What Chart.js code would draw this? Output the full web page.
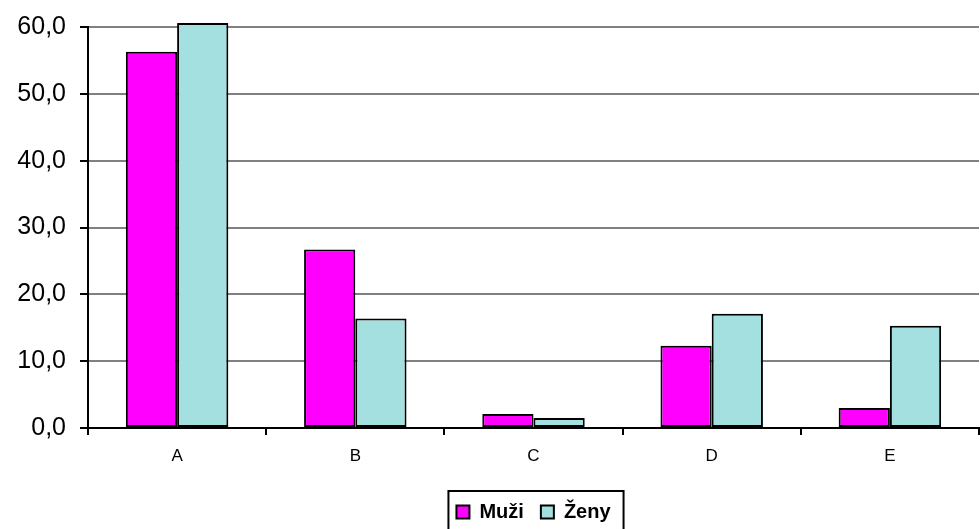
<!DOCTYPE html>
<html lang="cs">
<head>
    <meta charset="UTF-8">
    <title>Muži a ženy</title>
    <style>
        body {
            margin: 0;
            background-color: #fff;
        }
        canvas {
            display: block;
        }
    </style>
</head>
<body>
    <canvas id="genderChart" width="980" height="529"></canvas>

    <script src="https://cdn.jsdelivr.net/npm/chart.js"></script>
    <script>
        const categories = ['A', 'B', 'C', 'D', 'E'];
        const muzi = [56.3, 26.7, 2.1, 12.3, 3.0];
        const zeny = [60.6, 16.4, 1.5, 17.1, 15.3];
        const yMax = 60;
        const yStep = 10;

        // frame around the legend items
        const legendFrame = {
            id: 'legendFrame',
            afterDraw(chart) {
                const boxes = chart.legend.legendHitBoxes;
                if (!boxes || !boxes.length) return;
                const left = Math.min(...boxes.map(b => b.left)) - 8;
                const right = Math.max(...boxes.map(b => b.left + b.width)) + 13;
                const top = Math.min(...boxes.map(b => b.top)) - 11;
                const ctx = chart.ctx;
                ctx.save();
                ctx.strokeStyle = '#000';
                ctx.lineWidth = 2;
                ctx.strokeRect(left, top, right - left, chart.height - top + 4);
                ctx.restore();
            }
        };

        const ctx = document.getElementById('genderChart').getContext('2d');
        new Chart(ctx, {
            type: 'bar',
            data: {
                labels: categories,
                datasets: [
                    {
                        label: 'Muži',
                        data: muzi,
                        backgroundColor: '#FF00FF',
                        borderColor: '#000',
                        borderWidth: 2,
                        borderSkipped: false,
                        clip: false
                    },
                    {
                        label: 'Ženy',
                        data: zeny,
                        backgroundColor: '#A4E0E0',
                        borderColor: '#000',
                        borderWidth: 2,
                        borderSkipped: false,
                        clip: false
                    }
                ]
            },
            options: {
                responsive: false,
                animation: false,
                devicePixelRatio: 1,
                categoryPercentage: 0.575,
                barPercentage: 1,
                layout: {
                    padding: { top: 27, right: 1, left: 0, bottom: -3 }
                },
                plugins: {
                    legend: {
                        position: 'bottom',
                        fullSize: false,
                        labels: {
                            color: '#000',
                            font: { family: 'Arial, "Liberation Sans", sans-serif', size: 20, weight: 'bold' },
                            boxWidth: 13,
                            boxHeight: 13,
                            padding: 17
                        }
                    },
                    tooltip: { enabled: false }
                },
                scales: {
                    x: {
                        afterFit(scale) {
                            scale.height = 57;
                        },
                        grid: {
                            display: true,
                            offset: true,
                            drawOnChartArea: false,
                            color: '#000',
                            lineWidth: 2,
                            tickLength: 7
                        },
                        border: { color: '#000', width: 2 },
                        ticks: {
                            color: '#000',
                            padding: 11,
                            font: { family: 'Arial, "Liberation Sans", sans-serif', size: 17 }
                        }
                    },
                    y: {
                        min: 0,
                        max: yMax,
                        afterFit(scale) {
                            scale.width = 88;
                            scale.paddingTop = 0;
                        },
                        grid: {
                            color: '#808080',
                            lineWidth: 2,
                            tickColor: '#000',
                            tickLength: 8
                        },
                        border: { color: '#000', width: 2 },
                        ticks: {
                            stepSize: yStep,
                            color: '#000',
                            padding: 14,
                            font: { family: 'Arial, "Liberation Sans", sans-serif', size: 25 },
                            callback: value => value.toFixed(1).replace('.', ',')
                        }
                    }
                }
            },
            plugins: [legendFrame]
        });
    </script>
</body>
</html>
